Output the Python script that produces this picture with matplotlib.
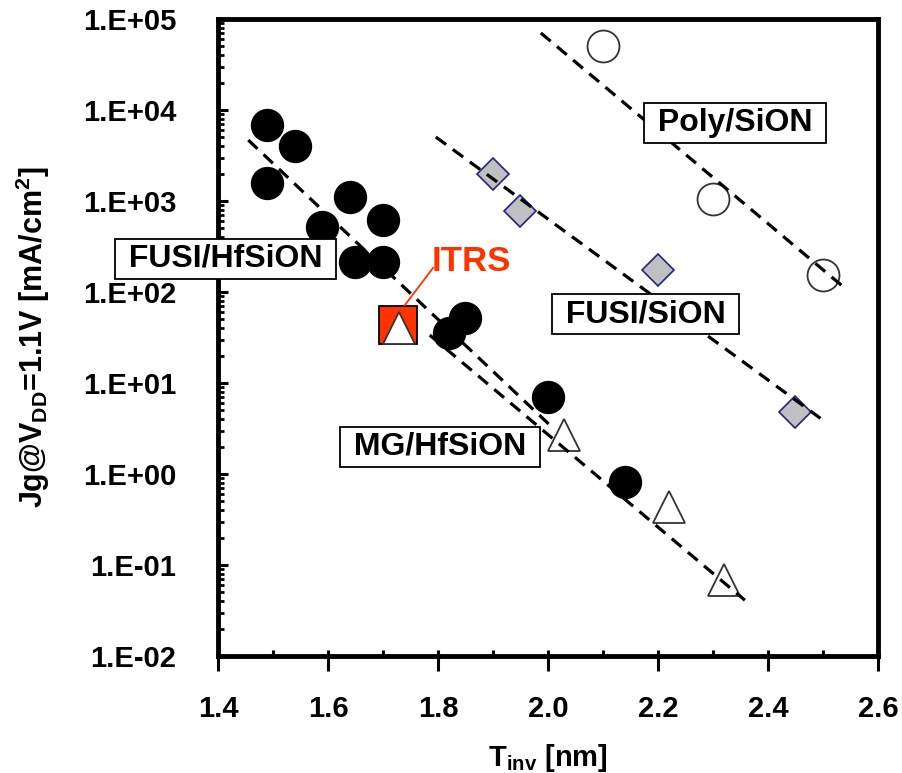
import numpy as np
import matplotlib.pyplot as plt
from matplotlib.ticker import FixedLocator, FuncFormatter, MultipleLocator

plt.rcParams['font.family'] = 'Liberation Sans'
plt.rcParams['font.weight'] = 'bold'
plt.rcParams['mathtext.fontset'] = 'custom'
plt.rcParams['mathtext.rm'] = 'Liberation Sans:bold'
plt.rcParams['mathtext.it'] = 'Liberation Sans:bold'
plt.rcParams['mathtext.bf'] = 'Liberation Sans:bold'

# measured points
fusi_hf_x = [1.49, 1.54, 1.49, 1.59, 1.64, 1.70, 1.65, 1.70, 1.82, 1.85, 2.00, 2.14]
fusi_hf_y = [6800, 4000, 1580, 520, 1100, 620, 214, 214, 35, 52, 7.0, 0.82]
mg_hf_x = [1.73, 2.03, 2.22, 2.32]
mg_hf_y = [40, 2.7, 0.43, 0.068]
fusi_sion_x = [1.90, 1.95, 2.20, 2.45]
fusi_sion_y = [1980, 780, 175, 4.8]
poly_x = [2.10, 2.30, 2.50]
poly_y = [50500, 1050, 154]
itrs_x = [1.727]
itrs_y = [43]

# trend lines (end points)
poly_fit_x = [1.987, 2.544]
poly_fit_y = [70200, 105]
fusi_sion_fit_x = [1.796, 2.50]
fusi_sion_fit_y = [5050, 3.9]
fusi_hf_fit_x = [1.455, 2.009]
fusi_hf_fit_y = [4680, 3.2]
mg_hf_fit_x = [1.785, 2.358]
mg_hf_fit_y = [33.6, 0.041]

labels = ['FUSI/HfSiON', 'MG/HfSiON', 'FUSI/SiON', 'Poly/SiON']
label_x = [1.4145, 1.804, 2.178, 2.340]
label_y = [231, 1.98, 57.3, 7200]

fig = plt.figure(figsize=(9.03, 7.73), dpi=100)
ax = fig.add_axes([0.2414, 0.1514, 0.7309, 0.824])
ax.set_yscale('log')

ax.plot(fusi_hf_x, fusi_hf_y, 'o', ms=23, mfc='black', mec='black', zorder=3)
ax.plot(mg_hf_x, mg_hf_y, '^', ms=23, mfc='white', mec='#333333', mew=1.3, zorder=3)
ax.plot(fusi_sion_x, fusi_sion_y, 'D', ms=16, mfc='#c0c0c0', mec='#22228a', mew=1.2, zorder=3)
ax.plot(poly_x, poly_y, 'o', ms=23, mfc='white', mec='#333333', mew=1.3, zorder=3)
ax.plot(itrs_x, itrs_y, 's', ms=27, mfc='#ff3300', mec='black', mew=1.3, zorder=2.9)

for fx, fy in [(poly_fit_x, poly_fit_y), (fusi_sion_fit_x, fusi_sion_fit_y),
               (fusi_hf_fit_x, fusi_hf_fit_y), (mg_hf_fit_x, mg_hf_fit_y)]:
    ax.plot(fx, fy, color='black', lw=2.3, dashes=(4, 2.6), zorder=4)

ax.plot([1.791, 1.74], [184, 72], color='#ff3300', lw=1.3, zorder=4)
ax.text(1.789, 214, 'ITRS', color='#ff3300', fontsize=25, fontweight='bold',
        ha='left', va='center', zorder=5)

for s, x, y in zip(labels, label_x, label_y):
    ax.text(x, y, ' ' + s + ' ', fontsize=23, ha='center', va='center', zorder=6,
            bbox=dict(boxstyle='square,pad=0.15', fc='white', ec='black', lw=1.3))

ax.set_xlim(1.4, 2.6)
ax.set_ylim(1e-2, 1e5)

ax.xaxis.set_major_locator(MultipleLocator(0.2))
ax.xaxis.set_minor_locator(MultipleLocator(0.1))
ax.xaxis.remove_overlapping_locs = False
ax.xaxis.set_major_formatter(FuncFormatter(lambda v, p: '%.1f' % v))
ax.yaxis.set_major_locator(FixedLocator([10.0 ** k for k in range(-2, 6)]))
ax.yaxis.set_minor_locator(FixedLocator([m * 10.0 ** k for k in range(-2, 5) for m in range(2, 10)]))
ax.yaxis.set_major_formatter(FuncFormatter(lambda v, p: '1.E%+03d' % round(np.log10(v))))

ax.tick_params(axis='x', which='major', direction='out', length=11, width=2.2, pad=17, labelsize=21)
ax.tick_params(axis='x', which='minor', direction='in', length=4.5, width=2.2)
ax.tick_params(axis='y', which='major', direction='in', length=7, width=2.2, pad=30, labelsize=21)
ax.tick_params(axis='y', which='minor', direction='in', length=4.5, width=2.0)

for sp in ax.spines.values():
    sp.set_linewidth(3.5)

ax.set_xlabel(r'T$_{\mathrm{inv}}$ [nm]', fontsize=21, fontweight='bold', labelpad=14)
ax.set_ylabel(r'Jg@V$_{\mathrm{DD}}$=1.1V [mA/cm$^{\mathrm{2}}$]', fontsize=22,
              fontweight='bold', labelpad=22)

fig.savefig('out.png', dpi=100)
